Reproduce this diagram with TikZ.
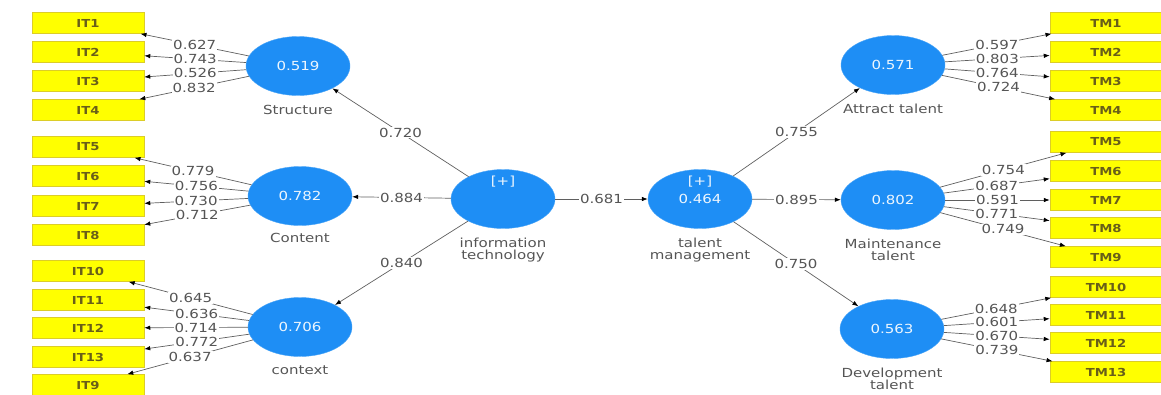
\documentclass[tikz,border=0pt]{standalone}
\usepackage{fontspec}
\setmainfont[FakeStretch=1.2]{DejaVu Sans}
\usepackage{tikz}
\usetikzlibrary{arrows.meta,positioning,shapes.geometric}
\definecolor{plsblue}{RGB}{30,142,245}
\definecolor{plsyellow}{RGB}{255,255,0}
\definecolor{plsedge}{RGB}{220,205,40}
\definecolor{plsline}{RGB}{95,95,95}
\definecolor{plstext}{RGB}{85,85,85}
\definecolor{plsitem}{RGB}{105,95,25}

\begin{document}
\begin{tikzpicture}[x=1pt,y=-1pt,
  latent/.style={ellipse,fill=plsblue,draw=plsblue!80!white,minimum width=104pt,
                 minimum height=59pt,inner sep=0pt,text=white!92!plsblue,
                 font=\fontsize{12.5}{12.5}\selectfont},
  plus/.style={inner sep=1pt,text=white!92!plsblue,font=\fontsize{12.5}{12.5}\selectfont},
  indicator/.style={rectangle,fill=plsyellow,draw=plsedge,line width=0.5pt,
                    minimum width=112pt,minimum height=21pt,inner sep=0pt,
                    text=plsitem,font=\fontsize{11}{11}\selectfont\bfseries},
  lvname/.style={align=center,inner sep=1pt,text=plstext,
                 font=\fontsize{12.5}{12.5}\selectfont},
  load/.style={draw=plsline,line width=0.7pt,-{Latex[length=6pt,width=4.5pt,color=black]}},
  coef/.style={fill=white,inner sep=1pt,text=plstext,
               font=\fontsize{12.5}{12.5}\selectfont}]
\useasboundingbox (0,0) rectangle (1161,394);

% indicator boxes
\foreach \n/\y in {1/23,2/52,3/81,4/110,5/147,6/176,7/206,8/235,
                   10/271,11/300,12/328,13/357,9/385}
  \node[indicator] (it\n) at (88,\y) {IT\n};
\foreach \n/\y in {1/23,2/52,3/81,4/110,5/142,6/171,7/200,8/228,
                   9/257,10/287,11/315,12/343,13/372}
  \node[indicator] (tm\n) at (1106,\y) {TM\n};

% latent variables
\node[latent] (struct) at (298,66) {0.519};
\node[latent] (content) at (300,196) {0.782};
\node[latent] (context) at (300,327) {0.706};
\node[latent] (infotech) at (503,199) {};
\node[latent] (talentmgmt) at (700,199) {0.464};
\node[latent] (attract) at (893,65) {0.571};
\node[latent] (maint) at (893,200) {0.802};
\node[latent] (develop) at (892,329) {0.563};
\node[plus] (itplus) at ([yshift=17pt]infotech.center) {[+]};
\node[plus] (tmplus) at ([yshift=17pt]talentmgmt.center) {[+]};

\node[lvname,below=8pt of struct] (structlbl) {Structure};
\node[lvname,below=6pt of content] (contentlbl) {Content};
\node[lvname,below=8pt of context] (contextlbl) {context};
\node[lvname,below=8pt of infotech] (infotechlbl) {information\\technology};
\node[lvname,below=8pt of talentmgmt] (talentmgmtlbl) {talent\\management};
\node[lvname,below=8pt of attract] (attractlbl) {Attract talent};
\node[lvname,below=8pt of maint] (maintlbl) {Maintenance\\talent};
\node[lvname,below=8pt of develop] (developlbl) {Development\\talent};

% outer loadings
\foreach \n/\v in {1/0.627,2/0.743,3/0.526,4/0.832}
  \draw[load] (struct) -- node[coef]{\v} (it\n);
\foreach \n/\v in {5/0.779,6/0.756,7/0.730,8/0.712}
  \draw[load] (content) -- node[coef]{\v} (it\n);
\foreach \n/\v in {10/0.645,11/0.636,12/0.714,13/0.772,9/0.637}
  \draw[load] (context) -- node[coef]{\v} (it\n);
\foreach \n/\v in {1/0.597,2/0.803,3/0.764,4/0.724}
  \draw[load] (attract) -- node[coef]{\v} (tm\n);
\foreach \n/\v in {5/0.754,6/0.687,7/0.591,8/0.771,9/0.749}
  \draw[load] (maint) -- node[coef]{\v} (tm\n);
\foreach \n/\v in {10/0.648,11/0.601,12/0.670,13/0.739}
  \draw[load] (develop) -- node[coef]{\v} (tm\n);

% path coefficients
\draw[load] (infotech) -- node[coef]{0.720} (struct);
\draw[load] (infotech) -- node[coef]{0.884} (content);
\draw[load] (infotech) -- node[coef]{0.840} (context);
\draw[load] (infotech) -- node[coef]{0.681} (talentmgmt);
\draw[load] (talentmgmt) -- node[coef]{0.755} (attract);
\draw[load] (talentmgmt) -- node[coef]{0.895} (maint);
\draw[load] (talentmgmt) -- node[coef]{0.750} (develop);
\end{tikzpicture}
\end{document}
